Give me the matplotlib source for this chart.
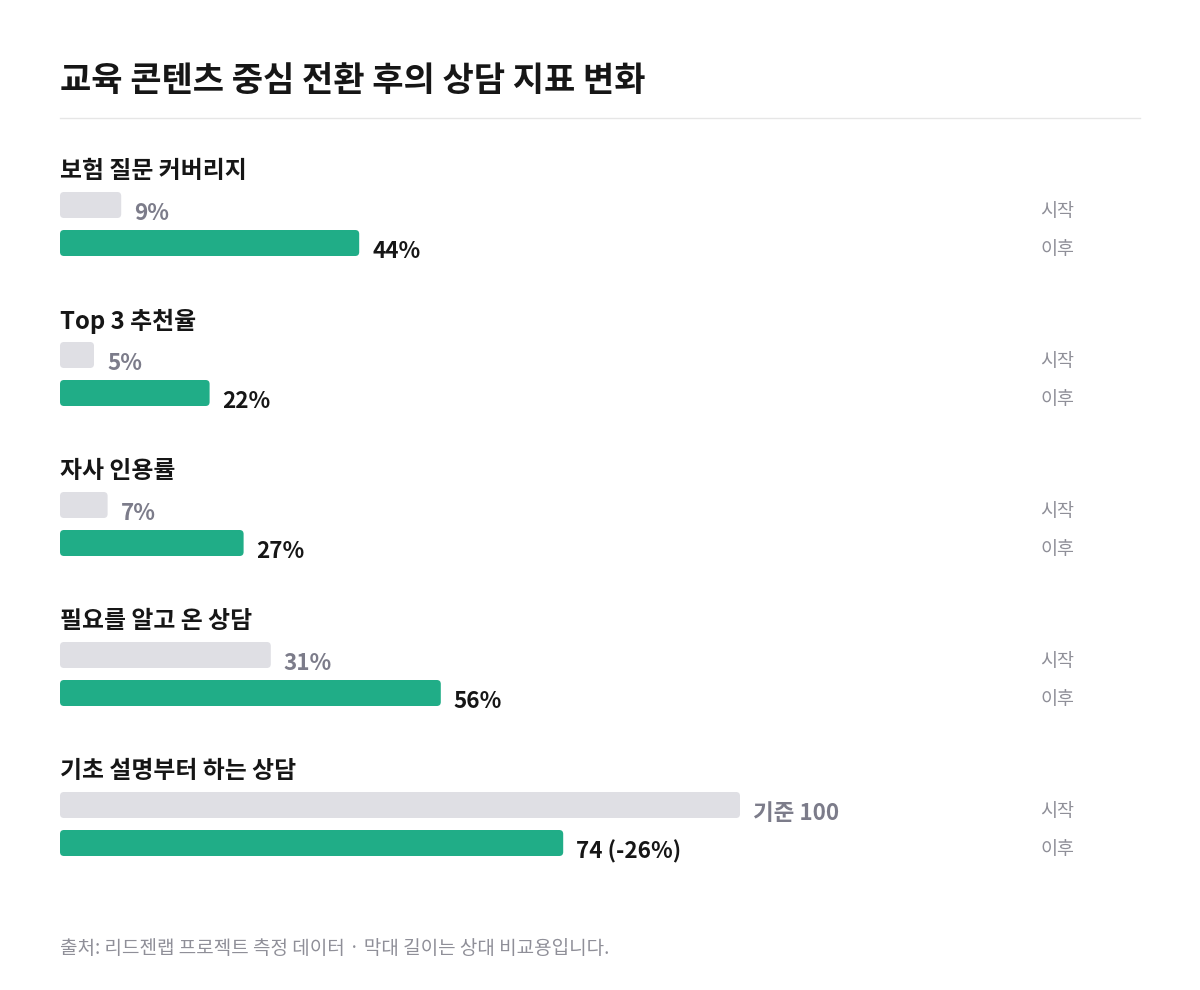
import matplotlib
matplotlib.use("Agg")
import matplotlib.pyplot as plt
from matplotlib.patches import FancyBboxPatch

plt.rcParams['font.family'] = ['Noto Sans CJK KR', 'DejaVu Sans']

title = "교육 콘텐츠 중심 전환 후의 상담 지표 변화"
metrics = ["보험 질문 커버리지", "Top 3 추천율", "자사 인용률", "필요를 알고 온 상담", "기초 설명부터 하는 상담"]
before_vals = [9, 5, 7, 31, 100]
after_vals = [44, 22, 27, 56, 74]
before_labels = ["9%", "5%", "7%", "31%", "기준 100"]
after_labels = ["44%", "22%", "27%", "56%", "74 (-26%)"]
source = "출처: 리드젠랩 프로젝트 측정 데이터 · 막대 길이는 상대 비교용입니다."

GREEN = "#20ad87"
GRAY_BAR = "#dfdfe4"
GRAY_TXT = "#7c7c8a"
SIDE_TXT = "#8f8f98"
DARK = "#161616"

W, H = 1200, 990
LEFT, RIGHT = 60, 1140
PX_PER_UNIT = 6.8  # 100 units span 680 px


def px(x):
    return (x - LEFT) / PX_PER_UNIT


fig = plt.figure(figsize=(W / 100, H / 100), dpi=100)
ax = fig.add_axes([0, 0, 1, 1])
ax.set_xlim(px(0), px(W))
ax.set_ylim(H, 0)
ax.axis("off")

ax.text(px(LEFT), 81, title, fontsize=24.5, fontweight="bold", color=DARK,
        va="center", ha="left")
ax.plot([px(LEFT), px(RIGHT)], [118, 118], color="#e6e6e6", lw=1)

group_top = 170
step = 150
bar_h = 26
ys_label = [group_top + i * step for i in range(len(metrics))]
ys_before = [y + 35 for y in ys_label]
ys_after = [y + 73 for y in ys_label]

b1 = ax.barh(ys_before, before_vals, height=bar_h, left=0, color=GRAY_BAR)
b2 = ax.barh(ys_after, after_vals, height=bar_h, left=0, color=GREEN)

# swap plain rectangles for rounded ones
for bars in (b1, b2):
    for r in bars:
        fb = FancyBboxPatch((r.get_x(), r.get_y()), r.get_width(), r.get_height(),
                            boxstyle="round,pad=0,rounding_size=%f" % (4 / PX_PER_UNIT),
                            mutation_aspect=PX_PER_UNIT,
                            facecolor=r.get_facecolor(), edgecolor="none")
        ax.add_patch(fb)
        r.set_visible(False)

off = 13 / PX_PER_UNIT
for i, name in enumerate(metrics):
    ax.text(px(LEFT), ys_label[i] + 1.5, name, fontsize=17.2, fontweight="bold",
            color=DARK, va="center", ha="left")
    ax.text(before_vals[i] + off, ys_before[i] + 8.5, before_labels[i], fontsize=16.2,
            fontweight="bold", color=GRAY_TXT, va="center", ha="left")
    ax.text(after_vals[i] + off, ys_after[i] + 8.5, after_labels[i], fontsize=16.2,
            fontweight="bold", color=DARK, va="center", ha="left")
    ax.text(px(1040), ys_before[i] + 6.5, "시작", fontsize=13.3, color=SIDE_TXT,
            va="center", ha="left")
    ax.text(px(1040), ys_after[i] + 6.5, "이후", fontsize=13.3, color=SIDE_TXT,
            va="center", ha="left")

ax.text(px(LEFT), 949, source, fontsize=13.7, color=SIDE_TXT, va="center", ha="left")

fig.savefig("out.png", dpi=100, facecolor="white")
